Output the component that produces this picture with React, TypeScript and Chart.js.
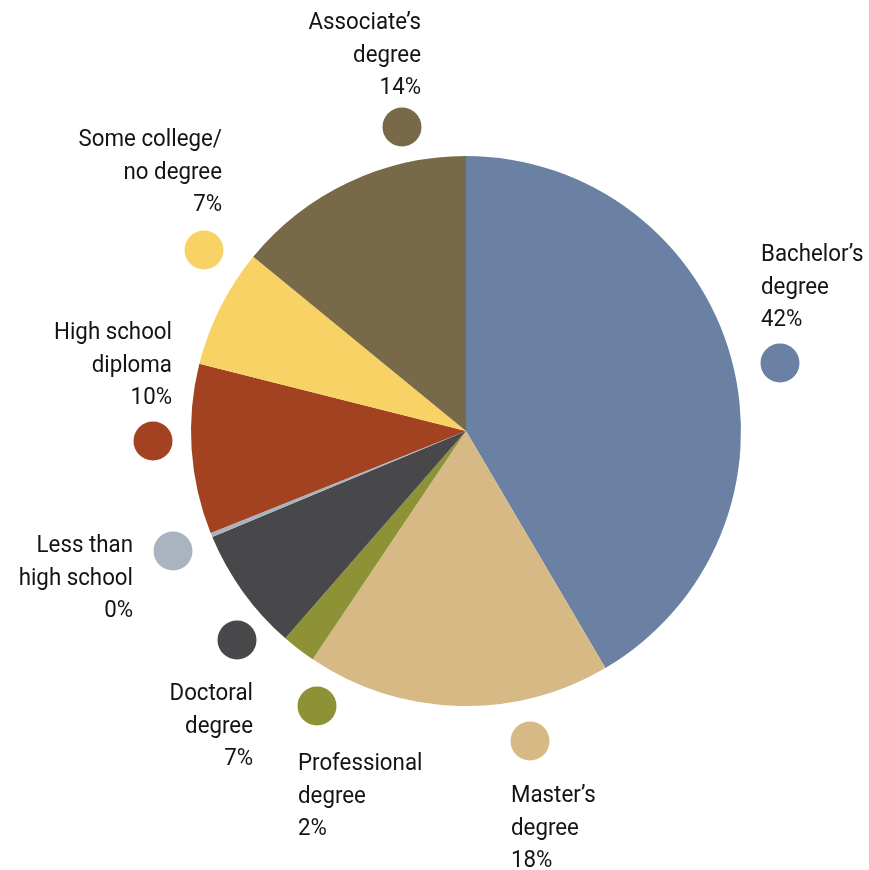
import React, { useEffect, useRef } from "react";
import { Chart, registerables } from "chart.js";

Chart.register(...registerables);

const categories = [
  "Bachelor’s degree",
  "Master’s degree",
  "Professional degree",
  "Doctoral degree",
  "Less than high school",
  "High school diploma",
  "Some college/ no degree",
  "Associate’s degree",
];
const labelLines = [
  ["Bachelor’s", "degree", "42%"],
  ["Master’s", "degree", "18%"],
  ["Professional", "degree", "2%"],
  ["Doctoral", "degree", "7%"],
  ["Less than", "high school", "0%"],
  ["High school", "diploma", "10%"],
  ["Some college/", "no degree", "7%"],
  ["Associate’s", "degree", "14%"],
];
const values = [41.6, 17.9, 2.0, 7.3, 0.25, 10.0, 7.0, 14.1];
const colors = [
  "#6B81A3",
  "#D6B985",
  "#8E9236",
  "#48484A",
  "#A9B4C0",
  "#A34221",
  "#F9D266",
  "#786948",
];

// annotation layout: dot offset from pie centre, text alignment, text x offset from dot, first-line centre y offset from dot
const labelLayout = [
  { dx: 314, dy: -68, align: "left", tx: -19, ty: -111 },
  { dx: 64, dy: 310, align: "left", tx: -19, ty: 52 },
  { dx: -149, dy: 275, align: "left", tx: -19, ty: 55 },
  { dx: -229, dy: 209, align: "right", tx: 16, ty: 51 },
  { dx: -293, dy: 120, align: "right", tx: -40, ty: -8 },
  { dx: -313, dy: 10, align: "right", tx: 19, ty: -111 },
  { dx: -262, dy: -181, align: "right", tx: 18, ty: -113 },
  { dx: -64, dy: -304, align: "right", tx: 19, ty: -107 },
];

const FONT = "24.5px Roboto, 'DejaVu Sans Condensed', sans-serif";
const X_SCALE = 0.91;

const labelPlugin = {
  id: "outerLabels",
  afterDraw(chart: any) {
    const meta = chart.getDatasetMeta(0);
    const arc = meta.data[0];
    if (!arc) return;
    const cx = arc.x;
    const cy = arc.y;
    const ctx = chart.ctx;
    ctx.save();
    labelLayout.forEach((l, i) => {
      const x = cx + l.dx;
      const y = cy + l.dy;
      ctx.beginPath();
      ctx.arc(x, y, 19.5, 0, Math.PI * 2);
      ctx.fillStyle = colors[i];
      ctx.fill();
      ctx.font = FONT;
      ctx.fillStyle = "#141414";
      ctx.textAlign = l.align;
      ctx.textBaseline = "alphabetic";
      labelLines[i].forEach((line, j) => {
        ctx.save();
        ctx.translate(x + l.tx, y + l.ty + 9 + j * 32.5);
        ctx.scale(X_SCALE, 1);
        ctx.fillText(line, 0, 0);
        ctx.restore();
      });
    });
    ctx.restore();
  },
};

export default function App() {
  const ref = useRef<HTMLCanvasElement>(null);
  useEffect(() => {
    if (!ref.current) return;
    const chart = new Chart(ref.current, {
      type: "pie",
      data: {
        labels: categories,
        datasets: [
          {
            data: values,
            backgroundColor: colors,
            borderWidth: 0,
          },
        ],
      },
      options: {
        animation: false,
        responsive: false,
        maintainAspectRatio: false,
        layout: { padding: { left: 191, right: 128, top: 156, bottom: 164 } },
        plugins: {
          legend: { display: false },
          tooltip: { enabled: false },
        },
      },
      plugins: [labelPlugin],
    });
    return () => chart.destroy();
  }, []);
  return (
    <div style={{ position: "fixed", left: 0, top: 0, width: 869, height: 870, background: "#fff" }}>
      <canvas ref={ref} width={869} height={870} style={{ width: 869, height: 870 }} />
    </div>
  );
}
